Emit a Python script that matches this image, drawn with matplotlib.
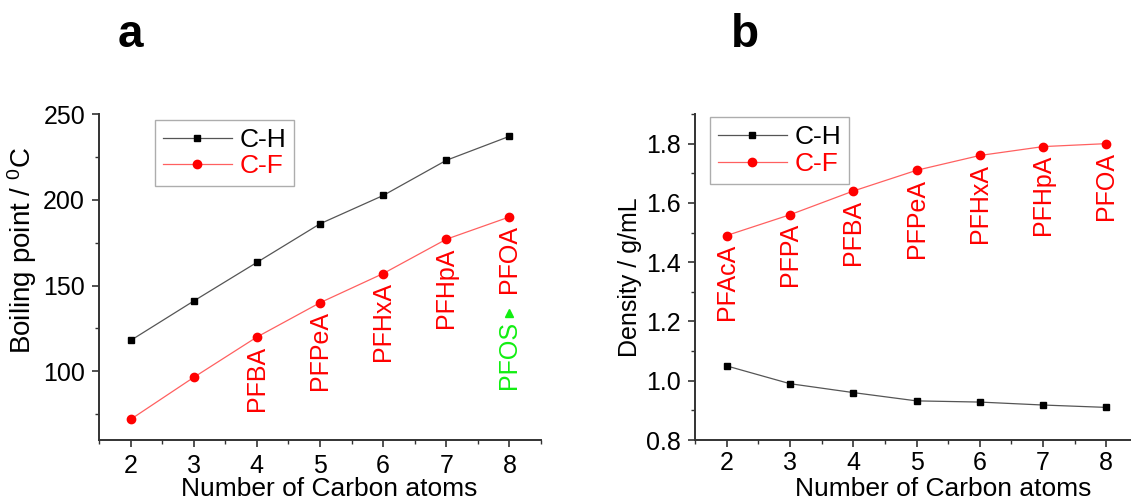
import matplotlib
matplotlib.use('Agg')
import matplotlib.pyplot as plt
from matplotlib.ticker import MultipleLocator

plt.rcParams['font.family'] = ['Liberation Sans', 'DejaVu Sans']
plt.rcParams['mathtext.fontset'] = 'custom'
plt.rcParams['mathtext.rm'] = 'Liberation Sans'
plt.rcParams['mathtext.it'] = 'Liberation Sans'

carbons = [2, 3, 4, 5, 6, 7, 8]

# panel a: boiling points
bp_ch = [118, 141, 163.5, 186, 202.5, 223, 237]
bp_cf = [72, 96.5, 120, 140, 157, 177, 190]
bp_names = ['', '', 'PFBA', 'PFPeA', 'PFHxA', 'PFHpA', 'PFOA']
pfos_x = 8
pfos_bp = 134

# panel b: densities
den_ch = [1.05, 0.99, 0.96, 0.932, 0.928, 0.918, 0.91]
den_cf = [1.49, 1.56, 1.64, 1.71, 1.76, 1.79, 1.80]
den_names = ['PFAcA', 'PFPA', 'PFBA', 'PFPeA', 'PFHxA', 'PFHpA', 'PFOA']

fig = plt.figure(figsize=(11.31, 5.0), dpi=100)
axa = fig.add_axes([99/1131, 60/500, 442/1131, 326/500])
axb = fig.add_axes([695/1131, 60/500, 443/1131, 326/500])


def style(ax):
    for s in ['top', 'right']:
        ax.spines[s].set_visible(False)
    for s in ['left', 'bottom']:
        ax.spines[s].set_linewidth(1.4)
        ax.spines[s].set_color('#333333')
    ax.tick_params(which='major', direction='out', length=5, width=1.2,
                   labelsize=18, color='#333333', pad=5)
    ax.tick_params(which='minor', direction='out', length=3, width=1.0,
                   color='#333333')
    ax.set_xlim(1.5, 8.5)
    ax.xaxis.set_major_locator(MultipleLocator(1))
    ax.xaxis.set_minor_locator(MultipleLocator(0.5))


def labels(ax, xs, ys, names, color='red'):
    for x, y, n in zip(xs, ys, names):
        if n:
            ax.annotate(n, (x, y), xytext=(0, -6), textcoords='offset points',
                        rotation=90, ha='center', va='top', color=color,
                        fontsize=18)


def legend(ax, anchor):
    leg = ax.legend(loc='upper left', bbox_to_anchor=anchor, borderaxespad=0,
                    fontsize=19, fancybox=False, edgecolor='#999999',
                    handlelength=2.6, handletextpad=0.3, borderpad=0.3,
                    labelspacing=0.1)
    leg.get_frame().set_linewidth(1.0)
    leg.get_texts()[0].set_color('black')
    leg.get_texts()[1].set_color('red')


# ---- a ----
ax = axa
style(ax)
ax.plot(carbons, bp_ch, '-s', color='#555555', lw=0.9, ms=5,
        mfc='black', mec='black', label='C-H')
ax.plot(carbons, bp_cf, '-o', color='#ff6060', lw=0.9, ms=6,
        mfc='red', mec='red', label='C-F')
ax.plot([pfos_x], [pfos_bp], '^', color='#11ee11', ms=6)
labels(ax, carbons, bp_cf, bp_names)
labels(ax, [pfos_x], [pfos_bp], ['PFOS'], color='#11ee11')
ax.set_ylim(60, 250)
ax.yaxis.set_major_locator(MultipleLocator(50))
ax.yaxis.set_minor_locator(MultipleLocator(25))
ax.set_xlabel('Number of Carbon atoms', fontsize=19, labelpad=-1, x=0.52)
ax.set_ylabel(r'Boiling point / $^{0}$C', fontsize=20, labelpad=3, y=0.58)
legend(ax, (0.127, 0.982))
fig.text(130/1131, 1 - 35/500, 'a', fontsize=33, fontweight='bold',
         ha='center', va='center')

# ---- b ----
ax = axb
style(ax)
ax.tick_params(axis='x', which='major', pad=3)
ax.plot(carbons, den_ch, '-s', color='#555555', lw=0.9, ms=5,
        mfc='black', mec='black', label='C-H')
ax.plot(carbons, den_cf, '-o', color='#ff6060', lw=0.9, ms=6,
        mfc='red', mec='red', label='C-F')
labels(ax, carbons, den_cf, den_names)
ax.set_ylim(0.8, 1.9)
ax.yaxis.set_major_locator(MultipleLocator(0.2))
ax.yaxis.set_minor_locator(MultipleLocator(0.1))
ax.set_xlabel('Number of Carbon atoms', fontsize=19, labelpad=1, x=0.56)
ax.set_ylabel('Density / g/mL', fontsize=18, labelpad=3)
legend(ax, (0.034, 0.99))
fig.text(745/1131, 1 - 35/500, 'b', fontsize=33, fontweight='bold',
         ha='center', va='center')

fig.savefig('out.png', dpi=100)
